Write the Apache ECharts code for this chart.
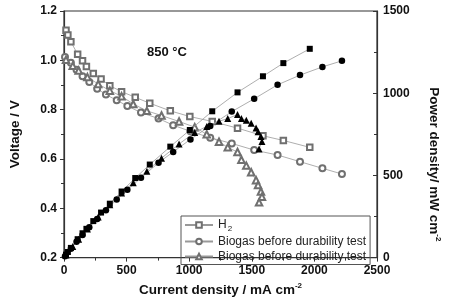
<!DOCTYPE html>
<html>
<head>
<meta charset="utf-8">
<script src="https://cdn.jsdelivr.net/npm/echarts@6/dist/echarts.min.js"></script>
<style>
  html, body { margin: 0; padding: 0; background: #fff; }
  #chart { width: 450px; height: 302px; }
</style>
</head>
<body>
<div id="chart"></div>
<script>
// values
// H2
const current_h2 = [16, 31, 55, 109, 148, 179, 234, 296, 366, 460, 569, 685, 849, 1005, 1184, 1386, 1589, 1752, 1963];
const voltage_h2 = [1.122, 1.103, 1.075, 1.025, 0.998, 0.975, 0.947, 0.924, 0.897, 0.873, 0.850, 0.826, 0.795, 0.772, 0.752, 0.725, 0.694, 0.675, 0.647];
const power_h2 = [18, 34, 59, 112, 148, 175, 222, 274, 328, 402, 484, 566, 675, 776, 890, 1005, 1103, 1183, 1270];

// biogas (circles)
const current_bg1 = [8, 55, 100, 148, 202, 265, 335, 421, 506, 615, 755, 872, 1010, 1168, 1340, 1519, 1706, 1885, 2064, 2220];
const voltage_bg1 = [1.013, 0.990, 0.962, 0.935, 0.912, 0.885, 0.861, 0.838, 0.815, 0.788, 0.764, 0.737, 0.712, 0.686, 0.663, 0.636, 0.616, 0.589, 0.562, 0.539];
const power_bg1 = [8, 54, 96, 138, 184, 235, 288, 353, 412, 485, 577, 643, 719, 801, 888, 966, 1051, 1110, 1160, 1197];

// biogas (triangles)
const current_bg2 = [16, 70, 117, 187, 273, 366, 460, 553, 662, 779, 919, 1044, 1140, 1238, 1308, 1386, 1417, 1456, 1495, 1534, 1550, 1573, 1581, 1558];
const voltage_bg2 = [1.002, 0.978, 0.959, 0.932, 0.904, 0.877, 0.854, 0.823, 0.795, 0.776, 0.752, 0.729, 0.700, 0.670, 0.647, 0.628, 0.597, 0.573, 0.546, 0.514, 0.494, 0.468, 0.447, 0.424];
const power_bg2 = [16, 68, 112, 174, 247, 321, 393, 455, 526, 605, 691, 761, 798, 829, 846, 870, 846, 835, 817, 788, 765, 736, 706, 660];

const seriesNames = ["H2", "Biogas before durability test", "Biogas before durability test "];

const FONT = "Liberation Sans";
const AXIS_COLOR = "#333";
const LINE_COLOR = "#999";
const OPEN_COLOR = "#707070";

const pairs = (xs, ys) => xs.map((x, i) => [x, ys[i]]);

const openSeries = (name, xs, ys, symbol, size) => ({
  name: name,
  type: "line",
  yAxisIndex: 0,
  data: pairs(xs, ys),
  symbol: symbol,
  symbolSize: size,
  showSymbol: true,
  showAllSymbol: true,
  lineStyle: { color: LINE_COLOR, width: 0.8 },
  itemStyle: { color: OPEN_COLOR, borderWidth: 0.8 },
  animation: false,
  z: 3,
});

const fillSeries = (name, xs, ys, symbol, size) => ({
  name: name,
  type: "line",
  yAxisIndex: 1,
  data: pairs(xs, ys),
  symbol: symbol,
  symbolSize: size,
  showAllSymbol: true,
  lineStyle: { color: LINE_COLOR, width: 0.8 },
  itemStyle: { color: "#000", borderWidth: 0 },
  animation: false,
  z: 4,
});

const chart = echarts.init(document.getElementById("chart"), null, { renderer: "canvas" });

const option = {
  backgroundColor: "#fff",
  animation: false,
  title: {
    text: "850 °C",
    left: 147,
    top: 46,
    padding: 0,
    textStyle: { fontFamily: FONT, fontSize: 13, fontWeight: "bold", color: "#111" },
  },
  grid: {
    left: 58,
    right: 71,
    top: 11,
    bottom: 34,
    show: true,
    borderColor: AXIS_COLOR,
    borderWidth: 1.2,
  },
  legend: {
    data: seriesNames,
    orient: "vertical",
    left: 181,
    top: 216,
    itemWidth: 28,
    itemHeight: 7,
    itemGap: 3,
    padding: [3, 4, 2, 3],
    borderColor: "#555",
    borderWidth: 1,
    textStyle: {
      fontFamily: FONT,
      fontSize: 12,
      color: "#222",
      rich: {
        t: { fontFamily: FONT, fontSize: 12, color: "#222" },
        sub: { fontFamily: FONT, fontSize: 8, color: "#222", padding: [7, 0, 0, 1] },
      },
    },
    formatter: (name) => (name === "H2" ? "{t|H}{sub|2}" : name.trim()),
  },
  xAxis: {
    type: "value",
    min: 0,
    max: 2500,
    interval: 500,
    name: "{b|Current density / mA cm}{sup|-2}",
    nameLocation: "middle",
    nameGap: 20,
    nameTextStyle: {
      rich: {
        b: { fontFamily: FONT, fontSize: 13.5, fontWeight: "bold", color: "#111" },
        sup: { fontFamily: FONT, fontSize: 8, fontWeight: "bold", color: "#111", padding: [0, 0, 9, 0] },
      },
    },
    axisLine: { lineStyle: { color: AXIS_COLOR, width: 1.2 } },
    axisTick: { inside: false, length: 4, lineStyle: { color: AXIS_COLOR } },
    minorTick: { show: true, splitNumber: 2, length: 3, lineStyle: { color: AXIS_COLOR } },
    splitLine: { show: false },
    axisLabel: {
      margin: 7,
      fontFamily: FONT,
      fontSize: 12,
      fontWeight: "bold",
      color: "#111",
      formatter: (v) => String(v),
    },
  },
  yAxis: [
    {
      type: "value",
      position: "left",
      min: 0.2,
      max: 1.2,
      interval: 0.2,
      name: "Voltage / V",
      nameLocation: "middle",
      nameGap: 42,
      nameTextStyle: { fontFamily: FONT, fontSize: 13.5, fontWeight: "bold", color: "#111" },
      axisLine: { show: true, lineStyle: { color: AXIS_COLOR, width: 1.2 } },
      axisTick: { show: true, inside: false, length: 4, lineStyle: { color: AXIS_COLOR } },
      minorTick: { show: true, splitNumber: 2, length: 3, lineStyle: { color: AXIS_COLOR } },
      splitLine: { show: false },
      axisLabel: {
        margin: 7,
        fontFamily: FONT,
        fontSize: 12,
        fontWeight: "bold",
        color: "#111",
        formatter: (v) => v.toFixed(1),
      },
    },
    {
      type: "value",
      position: "right",
      min: 0,
      max: 1500,
      interval: 500,
      name: "{b|Power density/ mW cm}{sup|-2}",
      nameLocation: "middle",
      nameRotate: -90,
      nameGap: 48,
      nameTextStyle: {
        padding: [0, 0, 0, 60],
        rich: {
          b: { fontFamily: FONT, fontSize: 13.5, fontWeight: "bold", color: "#111" },
          sup: { fontFamily: FONT, fontSize: 8, fontWeight: "bold", color: "#111", padding: [0, 0, 9, 0] },
        },
      },
      axisLine: { show: true, lineStyle: { color: AXIS_COLOR, width: 1.2 } },
      axisTick: { show: true, inside: true, length: 4, lineStyle: { color: AXIS_COLOR } },
      minorTick: { show: true, splitNumber: 2, length: 3, lineStyle: { color: AXIS_COLOR } },
      splitLine: { show: false },
      axisLabel: {
        margin: 6,
        fontFamily: FONT,
        fontSize: 12,
        fontWeight: "bold",
        color: "#111",
        formatter: (v) => String(v),
      },
    },
  ],
  series: [
    openSeries(seriesNames[0], current_h2, voltage_h2, "emptyRect", 5.5),
    openSeries(seriesNames[1], current_bg1, voltage_bg1, "emptyCircle", 6),
    openSeries(seriesNames[2], current_bg2, voltage_bg2, "emptyTriangle", 6.5),
    fillSeries("H2 power", current_h2, power_h2, "rect", 6),
    fillSeries("Biogas power", current_bg1, power_bg1, "circle", 6.5),
    fillSeries("Biogas power 2", current_bg2, power_bg2, "triangle", 7),
  ],
};

chart.setOption(option);
</script>
</body>
</html>
